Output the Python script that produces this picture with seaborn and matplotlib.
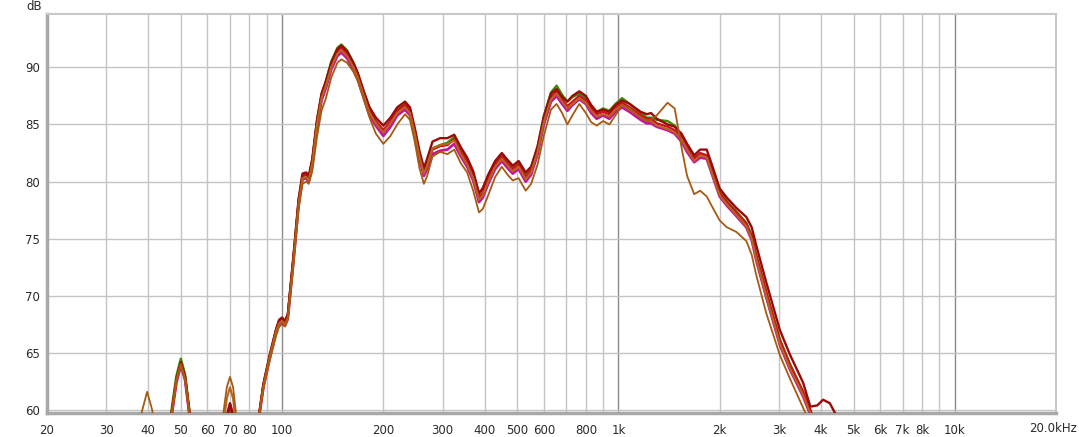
import matplotlib
matplotlib.use("Agg")
import matplotlib.pyplot as plt
import numpy as np
import pandas as pd
import seaborn as sns

# ---------------- data ----------------
freq = [20, 30, 35, 37, 38.4, 39.7, 41.1, 43, 45, 47, 48.5, 50, 51.5, 53, 55, 58, 62, 65, 66.8, 68.5,
        70, 71.5, 73, 75, 78, 82, 85.5, 88, 92, 96, 98, 100, 102, 104, 108, 112, 115, 118, 120, 123,
        127, 131, 135, 140, 146, 150, 156, 163, 168, 175, 182, 190, 200, 210, 220, 232, 240, 248, 256, 264,
        270, 280, 295, 310, 325, 340, 355, 370, 385, 395, 410, 430, 450, 468, 485, 505, 530, 550, 575, 600,
        630, 655, 680, 705, 730, 765, 800, 830, 862, 900, 940, 980, 1025, 1080, 1165, 1215, 1250, 1300, 1400, 1470,
        1540, 1600, 1680, 1750, 1830, 1900, 2000, 2100, 2240, 2400, 2490, 2570, 2750, 3020, 3230, 3540, 3720, 3900, 4060, 4250,
        4450, 4700, 5500, 20000]

spl_red = [40, 42, 45, 48, 50, 51, 50, 49, 54, 59.8, 62.6, 64.1, 62.8, 59.8, 55, 50, 48, 53, 56.5, 59.3,
           60.4, 59.4, 56.5, 53, 50, 54, 59.6, 62.2, 64.8, 67.0, 67.8, 68.0, 67.7, 68.3, 73.2, 78.3, 80.5, 80.6, 80.3, 81.8,
           85.2, 87.5, 88.6, 90.2, 91.4, 91.7, 91.2, 90.2, 89.3, 87.7, 86.2, 85.3, 84.5, 85.3, 86.2, 86.7, 86.2, 84.4, 82.4, 80.9,
           81.5, 82.8, 83.1, 83.2, 83.7, 82.6, 81.7, 80.5, 78.6, 79.0, 80.2, 81.5, 82.2, 81.6, 81.1, 81.5, 80.4, 81.0, 82.8, 85.4,
           87.4, 87.9, 87.2, 86.6, 87.0, 87.5, 87.1, 86.4, 85.9, 86.1, 85.9, 86.5, 86.9, 86.5, 85.8, 85.5, 85.5, 85.1, 84.8, 84.5,
           83.9, 83.0, 82.0, 82.5, 82.3, 80.9, 79.0, 78.2, 77.3, 76.3, 75.2, 73.5, 70.3, 66.1, 64.0, 61.6, 60.0, 58.3, 56.8, 55,
           53, 51, 45, 30]

spl_darkred = [40, 42, 45, 48, 50, 51, 50, 49, 54, 59.9, 62.7, 64.2, 62.9, 59.9, 55, 50, 48, 53, 56.5, 59.4,
               60.6, 59.5, 56.5, 53, 50, 54, 59.7, 62.3, 64.9, 67.1, 67.9, 68.1, 67.8, 68.4, 73.4, 78.5, 80.7, 80.8, 80.5, 82.0,
               85.4, 87.7, 88.8, 90.4, 91.6, 91.9, 91.4, 90.4, 89.5, 87.9, 86.5, 85.6, 84.9, 85.6, 86.5, 87.0, 86.5, 84.7, 82.7, 81.2,
               82.0, 83.5, 83.8, 83.8, 84.1, 83.0, 82.1, 80.9, 79.0, 79.4, 80.6, 81.8, 82.5, 81.9, 81.4, 81.8, 80.8, 81.3, 83.1, 85.7,
               87.7, 88.1, 87.4, 87.0, 87.5, 87.9, 87.5, 86.7, 86.1, 86.3, 86.1, 86.7, 87.1, 86.8, 86.1, 85.9, 86.0, 85.5, 85.0, 84.8,
               84.2, 83.3, 82.3, 82.8, 82.8, 81.4, 79.4, 78.6, 77.7, 76.9, 76.0, 74.4, 71.2, 67.0, 64.9, 62.4, 60.3, 60.4, 60.9, 60.6,
               59.5, 57.5, 50, 32]

spl_green = [40, 42, 45, 48, 50, 51, 50, 49, 54.5, 60.2, 63.0, 64.5, 63.1, 60.0, 55, 50, 48, 53, 56.5, 59.2,
             60.2, 59.2, 56.5, 53, 50, 54, 59.6, 62.2, 64.8, 67.0, 67.8, 68.0, 67.7, 68.3, 73.2, 78.3, 80.5, 80.6, 80.3, 81.9,
             85.3, 87.6, 88.8, 90.5, 91.7, 92.0, 91.5, 90.4, 89.4, 87.8, 86.2, 85.2, 84.4, 85.3, 86.3, 86.8, 86.3, 84.5, 82.5, 81.0,
             81.6, 82.9, 83.2, 83.4, 83.9, 82.8, 81.9, 80.7, 78.9, 79.4, 80.5, 81.7, 82.4, 81.8, 81.2, 81.6, 80.5, 81.1, 83.0, 85.7,
             87.8, 88.4, 87.6, 87.0, 87.4, 87.7, 87.3, 86.6, 86.1, 86.4, 86.2, 86.8, 87.3, 86.8, 86.0, 85.6, 85.6, 85.4, 85.3, 84.9,
             84.0, 83.0, 82.1, 82.4, 82.3, 81.0, 79.2, 78.3, 77.4, 76.4, 75.3, 73.6, 70.4, 66.2, 64.1, 61.6, 60.0, 58.3, 56.8, 55,
             53, 51, 45, 30]

spl_magenta = [40, 42, 45, 48, 50, 51, 50, 49, 54, 59.6, 62.4, 63.9, 62.6, 59.6, 55, 50, 48, 53, 56.6, 59.4,
               60.5, 59.5, 56.5, 53, 50, 54, 59.5, 62.0, 64.6, 66.8, 67.5, 67.7, 67.4, 68.0, 72.9, 78.0, 80.2, 80.3, 80.0, 81.5,
               84.8, 87.1, 88.2, 89.8, 91.0, 91.3, 90.8, 89.8, 88.9, 87.3, 85.8, 84.9, 84.0, 84.8, 85.8, 86.3, 85.8, 84.0, 82.0, 80.5,
               81.1, 82.4, 82.7, 82.8, 83.3, 82.2, 81.3, 80.1, 78.2, 78.6, 79.8, 81.1, 81.8, 81.2, 80.7, 81.1, 80.0, 80.6, 82.4, 85.0,
               87.0, 87.5, 86.8, 86.2, 86.7, 87.2, 86.8, 86.0, 85.5, 85.8, 85.5, 86.1, 86.5, 86.1, 85.4, 85.1, 85.1, 84.8, 84.5, 84.2,
               83.5, 82.6, 81.7, 82.1, 82.0, 80.6, 78.7, 77.9, 77.0, 76.0, 74.9, 73.1, 69.9, 65.7, 63.6, 61.2, 59.6, 58, 56.5, 55,
               53, 51, 45, 30]

spl_orange = [40, 42, 45, 48, 50, 51, 50, 49, 54, 59.7, 62.6, 64.0, 62.7, 59.7, 55, 50, 49, 55, 58.5, 61.0,
              62.0, 61.0, 58.5, 55, 50, 54, 59.6, 62.1, 64.7, 66.9, 67.6, 67.8, 67.5, 68.1, 73.0, 78.1, 80.3, 80.4, 80.1, 81.6,
              85.0, 87.3, 88.4, 90.0, 91.2, 91.5, 91.0, 90.0, 89.1, 87.5, 86.0, 85.1, 84.3, 85.1, 86.0, 86.5, 86.0, 84.2, 82.2, 80.7,
              81.4, 82.9, 83.2, 83.3, 83.6, 82.4, 81.5, 80.3, 78.4, 78.8, 80.0, 81.3, 82.0, 81.4, 80.9, 81.3, 80.2, 80.8, 82.6, 85.2,
              87.2, 87.7, 87.0, 86.4, 86.8, 87.3, 86.9, 86.2, 85.7, 85.9, 85.7, 86.3, 86.7, 86.3, 85.6, 85.3, 85.3, 84.9, 84.6, 84.3,
              83.7, 82.8, 81.8, 82.3, 82.1, 80.7, 78.8, 78.0, 77.1, 76.1, 75.0, 73.2, 70.0, 65.8, 63.7, 61.3, 59.7, 58, 56.5, 55,
              53, 51, 45, 30]

spl_brown = [40, 45, 53, 58, 60.0, 61.6, 60.0, 56, 55, 59.7, 62.5, 64.0, 62.6, 59.6, 55, 50, 50, 56, 59.6, 62.0,
             62.9, 62.0, 59.6, 56, 51, 54, 59.4, 61.9, 64.4, 66.5, 67.3, 67.5, 67.3, 67.9, 72.6, 77.6, 79.8, 80.0, 79.8, 80.9,
             83.9, 86.2, 87.3, 89.1, 90.4, 90.7, 90.4, 89.6, 88.8, 87.2, 85.6, 84.2, 83.3, 84.0, 85.0, 85.9, 85.4, 83.5, 81.2, 79.8,
             80.5, 82.2, 82.6, 82.4, 82.8, 81.6, 80.8, 79.2, 77.3, 77.6, 78.8, 80.4, 81.3, 80.6, 80.1, 80.3, 79.2, 79.8, 81.5, 84.0,
             86.3, 86.8, 86.0, 85.0, 85.8, 86.8, 86.0, 85.2, 84.9, 85.3, 85.0, 85.8, 86.7, 86.4, 85.6, 85.35, 85.4, 85.8, 86.9, 86.4,
             83.0, 80.5, 78.9, 79.2, 78.7, 77.8, 76.6, 76.0, 75.6, 74.8, 73.6, 71.8, 68.5, 64.8, 62.8, 60.2, 58.8, 57, 55.5, 54,
             52, 50, 45, 30]

curve_names = ["magenta", "green", "red", "darkred", "orange", "brown"]
curve_values = [spl_magenta, spl_green, spl_red, spl_darkred, spl_orange, spl_brown]
curve_colors = {"magenta": "#c4149c", "green": "#3a8c00", "red": "#d0101c",
                "darkred": "#9a0a0a", "orange": "#b5651d", "brown": "#a65a12"}
curve_widths = {"magenta": 2.0, "green": 1.7, "red": 1.7, "darkred": 1.7, "orange": 1.5, "brown": 1.3}

y_ticks = [60, 65, 70, 75, 80, 85, 90]
x_tick_vals = [20, 30, 40, 50, 60, 70, 80, 100, 200, 300, 400, 500, 600, 800, 1000,
               2000, 3000, 4000, 5000, 6000, 7000, 8000, 10000]
x_tick_labels = ["20", "30", "40", "50", "60", "70", "80", "100", "200", "300", "400", "500", "600", "800", "1k",
                 "2k", "3k", "4k", "5k", "6k", "7k", "8k", "10k"]
grid_freqs = [30, 40, 50, 60, 70, 80, 90, 200, 300, 400, 500, 600, 700, 800, 900,
              2000, 3000, 4000, 5000, 6000, 7000, 8000, 9000]
decade_freqs = [100, 1000, 10000]

for v in curve_values:
    assert len(v) == len(freq), len(v)

df = pd.concat([pd.DataFrame({"freq": freq, "spl": v, "curve": n})
                for n, v in zip(curve_names, curve_values)], ignore_index=True)

# ---------------- plot ----------------
sns.set_style("white")
plt.rcParams["font.family"] = ["DejaVu Sans"]

W, H = 1079, 437
fig = plt.figure(figsize=(W / 100, H / 100), dpi=100)
L, R, T, B = 47, 1056, 14, 413
ax = fig.add_axes([L / W, (H - B) / H, (R - L) / W, (B - T) / H])
ax.set_xscale("log")

for n in curve_names:
    sns.lineplot(data=df[df["curve"] == n], x="freq", y="spl", color=curve_colors[n],
                 linewidth=curve_widths[n], sort=False, estimator=None, legend=False, ax=ax, zorder=3,
                 solid_joinstyle="round", solid_capstyle="round")

ax.set_xlim(20, 20000)
ax.set_ylim(59.74, 94.67)

for f in grid_freqs:
    ax.axvline(f, color="#c4c4c4", lw=1.0, zorder=1)
for f in decade_freqs:
    ax.axvline(f, color="#8a8a8a", lw=1.0, zorder=1)
for yv in y_ticks:
    ax.axhline(yv, color="#c4c4c4", lw=1.0, zorder=1)

ax.set_xticks(x_tick_vals)
ax.set_xticklabels(x_tick_labels)
ax.xaxis.set_minor_locator(matplotlib.ticker.NullLocator())
ax.set_yticks(y_ticks)
ax.set_yticklabels([str(t) for t in y_ticks])
ax.tick_params(axis="both", length=0, labelsize=8.5, colors="#2a2a2a")
ax.tick_params(axis="x", pad=8)
ax.tick_params(axis="y", pad=5)
ax.set_xlabel("")
ax.set_ylabel("")

for s in ["left", "bottom"]:
    ax.spines[s].set_color("#a8a8a8")
    ax.spines[s].set_linewidth(2.5)
for s in ["top", "right"]:
    ax.spines[s].set_color("#c8c8c8")
    ax.spines[s].set_linewidth(1.5)

fig.text(42 / W, 1 - 7 / H, "dB", ha="right", va="center", fontsize=8.5, color="#2a2a2a")
fig.text(1077 / W, 1 - 428 / H, "20.0kHz", ha="right", va="center", fontsize=8.5, color="#2a2a2a")

fig.savefig("out.png", dpi=100, facecolor="white")
